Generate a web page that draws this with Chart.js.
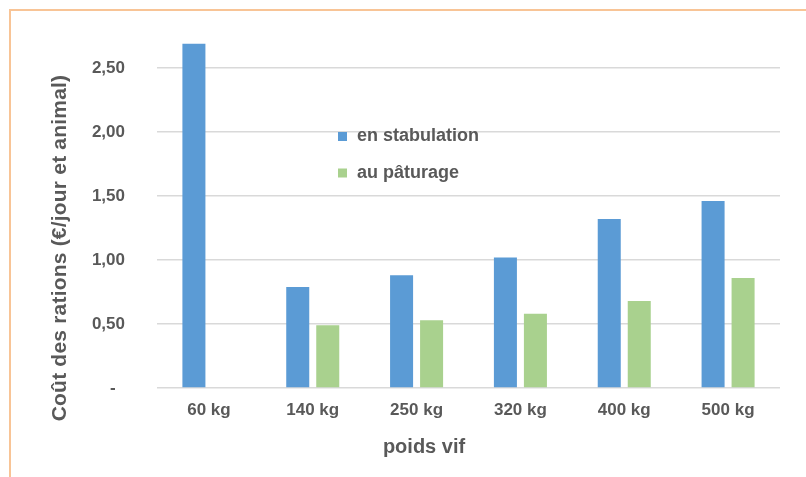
<!DOCTYPE html>
<html>
<head>
<meta charset="utf-8">
<script src="https://cdn.jsdelivr.net/npm/chart.js@4"></script>
<style>
  html, body { margin: 0; padding: 0; background: #ffffff; }
  #wrap { position: relative; width: 806px; height: 477px; overflow: hidden; }
  #frame { position: absolute; left: 9px; top: 9px; right: -10px; bottom: -10px;
           border-top: 2px solid #F8C496; border-left: 2px solid #F8C496; }
  #c { position: absolute; left: 0; top: 0; }
</style>
</head>
<body>
<div id="wrap">
  <div id="frame"></div>
  <canvas id="c" width="806" height="477"></canvas>
</div>
<script>
// Live weight classes and daily ration cost (€ per day and animal)
const categories = ['60 kg', '140 kg', '250 kg', '320 kg', '400 kg', '500 kg'];
const stabulation = [2.69, 0.79, 0.88, 1.02, 1.32, 1.46];
const paturage = [null, 0.49, 0.53, 0.58, 0.68, 0.86];
const seriesNames = ['en stabulation', 'au pâturage'];
const yTitle = 'Coût des rations (€/jour et animal)';
const xTitle = 'poids vif';

const GREY = '#595959';
const FONT = '"Liberation Sans", Arial, sans-serif';

// Legend floating inside the plot and axis titles
const overlay = {
  id: 'overlay',
  afterDraw(chart) {
    const ctx = chart.ctx;
    ctx.save();
    ctx.fillStyle = GREY;
    // legend
    ctx.font = 'bold 18px ' + FONT;
    ctx.textBaseline = 'middle';
    ctx.textAlign = 'left';
    chart.data.datasets.forEach((ds, i) => {
      const y = 136.5 + i * 36.5;
      ctx.fillStyle = ds.backgroundColor;
      ctx.fillRect(338, y - 4.5, 9, 9);
      ctx.fillStyle = GREY;
      ctx.fillText(ds.label, 357, y);
    });
    // x title
    ctx.font = 'bold 20px ' + FONT;
    ctx.textAlign = 'center';
    ctx.fillText(xTitle, 424, 447);
    // y title
    ctx.font = 'bold 21px ' + FONT;
    if ('letterSpacing' in ctx) ctx.letterSpacing = '0.2px';
    ctx.translate(60, 248);
    ctx.rotate(-Math.PI / 2);
    ctx.fillText(yTitle, 0, 0);
    ctx.restore();
  }
};

new Chart(document.getElementById('c'), {
  type: 'bar',
  data: {
    labels: categories,
    datasets: [
      { label: seriesNames[0], data: stabulation, backgroundColor: '#5B9BD5' },
      { label: seriesNames[1], data: paturage, backgroundColor: '#A9D18E' }
    ]
  },
  options: {
    responsive: false,
    animation: false,
    devicePixelRatio: 1,
    layout: { padding: { left: 0, top: 36, right: 26, bottom: 0 } },
    categoryPercentage: 0.578,
    barPercentage: 0.767,
    plugins: { legend: { display: false }, tooltip: { enabled: false } },
    scales: {
      x: {
        grid: { display: false, drawTicks: false },
        border: { display: false },
        ticks: { color: GREY, font: { family: FONT, size: 17, weight: 'bold' }, padding: 12, maxRotation: 0 },
        afterFit(s) { s.height = 89; s.paddingLeft = 0; s.paddingRight = 0; }
      },
      y: {
        min: 0,
        max: 2.75,
        grid: { color: '#D9D9D9', lineWidth: 1.5, drawTicks: false },
        border: { display: false },
        // keep only the 0,50 steps
        afterBuildTicks(s) { s.ticks = s.ticks.filter(t => Math.abs(t.value * 2 - Math.round(t.value * 2)) < 1e-6); },
        ticks: {
          stepSize: 0.5,
          color: GREY,
          font: { family: FONT, size: 17, weight: 'bold' },
          padding: 32,
          callback: v => v === 0 ? '-  ' : v.toFixed(2).replace('.', ',')
        },
        afterFit(s) { s.width = 157; s.paddingTop = 0; s.paddingBottom = 0; }
      }
    }
  },
  plugins: [overlay]
});
</script>
</body>
</html>
